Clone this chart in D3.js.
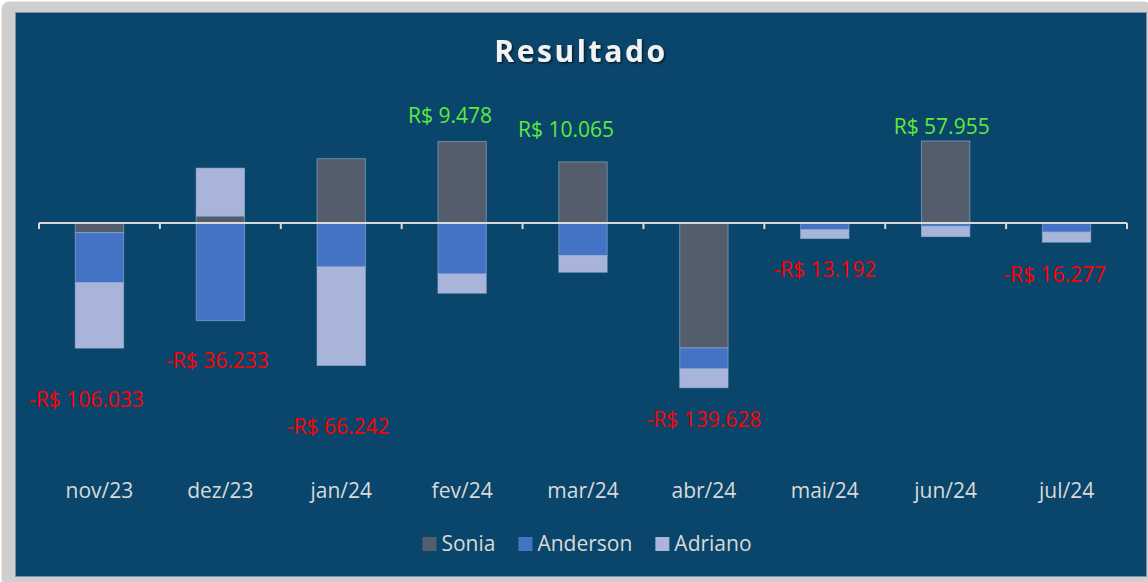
<!DOCTYPE html>
<html>
<head>
<meta charset="utf-8">
<script src="https://cdn.jsdelivr.net/npm/d3@7"></script>
<style>
  body { margin: 0; background: #fff; }
  svg text { font-family: "Open Sans", "Noto Sans", sans-serif; }
</style>
</head>
<body>
<svg width="1148" height="582"></svg>
<script>
// values in R$
var months   = ["nov/23", "dez/23", "jan/24", "fev/24", "mar/24", "abr/24", "mai/24", "jun/24", "jul/24"];
var sonia    = [-8200, 5900, 54500, 69000, 51800, -105900, 0, 69500, 0];
var anderson = [-42400, -82733, -37200, -43200, -27600, -17700, -5700, -2800, -7800];
var adriano  = [-55433, 40600, -83542, -16322, -14135, -16028, -7492, -8745, -8477];
var seriesNames = ["Sonia", "Anderson", "Adriano"];
var colors = ["#535d6b", "#4472c4", "#a8b4da"];

// the total labels were dragged around by hand in the original, so nudge them (px)
var labelNudge = [[-13, 52], [-3, 40], [-3, 61], [-12, -26], [-17, -32], [0, 32], [0, 31], [-4, -14], [-12, 32]];

var svg = d3.select("svg");

// frame + panel
svg.append("rect").attr("x", 1.5).attr("y", 1.5).attr("width", 1150).attr("height", 585)
   .attr("rx", 8).attr("fill", "#d0cece");
svg.append("rect").attr("x", 15.5).attr("y", 12.5).attr("width", 1131).attr("height", 564)
   .attr("fill", "#0a466b").attr("stroke", "#7894ab").attr("stroke-width", 1);

// title with a soft shadow
var defs = svg.append("defs");
var f = defs.append("filter").attr("id", "shadow").attr("x", "-20%").attr("y", "-40%")
            .attr("width", "140%").attr("height", "180%");
f.append("feDropShadow").attr("dx", 1.5).attr("dy", 1.5).attr("stdDeviation", 1.2)
 .attr("flood-color", "#000").attr("flood-opacity", 0.6);

svg.append("text")
   .attr("x", 581).attr("y", 62)
   .attr("text-anchor", "middle")
   .attr("font-size", 30).attr("font-weight", "bold")
   .attr("letter-spacing", 2.6)
   .attr("fill", "#f2f2f2")
   .attr("filter", "url(#shadow)")
   .text("Resultado");

var data = months.map(function(m, i) {
  return { month: m, Sonia: sonia[i], Anderson: anderson[i], Adriano: adriano[i] };
});

var stack = d3.stack().keys(seriesNames).offset(d3.stackOffsetDiverging);
var layers = stack(data);

var xScale = d3.scaleBand().domain(months).range([39, 1127]).padding(0);
var yScale = d3.scaleLinear().domain([-200000, 100000]).range([459, 105]);
var barW = xScale.bandwidth() * 0.4;

var g = svg.append("g");

// bars
g.selectAll(".layer")
 .data(layers)
 .enter().append("g")
 .attr("class", "layer")
 .attr("fill", function(d, i) { return colors[i]; })
 .selectAll("rect")
 .data(function(d) { return d; })
 .enter().append("rect")
 .attr("x", function(d) { return xScale(d.data.month) + (xScale.bandwidth() - barW) / 2; })
 .attr("y", function(d) { return yScale(Math.max(d[0], d[1])); })
 .attr("width", barW)
 .attr("height", function(d) { return Math.abs(yScale(d[0]) - yScale(d[1])); })
 .attr("stroke", "rgba(160,185,220,0.55)")
 .attr("stroke-width", function(d) { return d[0] === d[1] ? 0 : 1; });

// zero axis with ticks at the band edges
var y0 = yScale(0);
g.append("line").attr("x1", 39).attr("x2", 1127).attr("y1", y0).attr("y2", y0)
 .attr("stroke", "#d9d9d9").attr("stroke-width", 2);
var edges = months.map(function(m) { return xScale(m); }).concat([xScale.range()[1]]);
g.selectAll(".tick")
 .data(edges)
 .enter().append("line")
 .attr("class", "tick")
 .attr("x1", function(d) { return d; }).attr("x2", function(d) { return d; })
 .attr("y1", y0).attr("y2", y0 + 6)
 .attr("stroke", "#d9d9d9").attr("stroke-width", 2);

// category labels (Excel puts them low)
g.selectAll(".cat")
 .data(months)
 .enter().append("text")
 .attr("class", "cat")
 .attr("x", function(d) { return xScale(d) + xScale.bandwidth() / 2; })
 .attr("y", 498)
 .attr("text-anchor", "middle")
 .attr("font-size", 21)
 .attr("fill", "#d9d9d9")
 .text(function(d) { return d; });

// totals
var br = d3.formatLocale({ decimal: ",", thousands: ".", grouping: [3], currency: ["R$ ", ""], minus: "-" });
var fmt = br.format("$,.0f");

var totals = data.map(function(d, i) {
  var pos = 0, neg = 0;
  seriesNames.forEach(function(k) { if (d[k] > 0) pos += d[k]; else neg += d[k]; });
  return { month: d.month, total: d.Sonia + d.Anderson + d.Adriano, pos: pos, neg: neg, nudge: labelNudge[i] };
});

g.selectAll(".total")
 .data(totals)
 .enter().append("text")
 .attr("class", "total")
 .attr("x", function(d) { return xScale(d.month) + xScale.bandwidth() / 2 + d.nudge[0]; })
 .attr("y", function(d) { return (d.total >= 0 ? yScale(d.pos) : yScale(d.neg)) + d.nudge[1]; })
 .attr("dy", "0.35em")
 .attr("text-anchor", "middle")
 .attr("font-size", 21)
 .attr("fill", function(d) { return d.total >= 0 ? "#5eea3a" : "#ff0000"; })
 .text(function(d) { return fmt(d.total); });

// legend, centered
var legend = svg.append("g");
var lx = 0;
seriesNames.forEach(function(name, i) {
  var item = legend.append("g").attr("transform", "translate(" + lx + ",0)");
  item.append("rect").attr("x", 0).attr("y", 537).attr("width", 14).attr("height", 14).attr("fill", colors[i]);
  var t = item.append("text").attr("x", 19).attr("y", 551)
              .attr("font-size", 21).attr("fill", "#d9d9d9").text(name);
  lx += 19 + t.node().getComputedTextLength() + 23;
});
lx -= 23;
legend.attr("transform", "translate(" + (587 - lx / 2) + ",0)");
</script>
</body>
</html>
